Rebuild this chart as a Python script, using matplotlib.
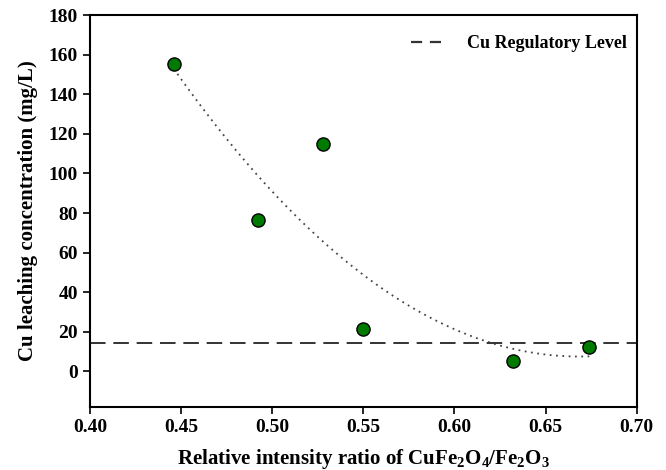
import matplotlib
matplotlib.use("Agg")
import matplotlib.pyplot as plt
from matplotlib.lines import Line2D
import numpy as np

# data
ratio = [0.446, 0.492, 0.528, 0.550, 0.632, 0.674]
cu_conc = [155.2, 76.6, 115.0, 21.2, 5.0, 12.1]
cu_limit = 14.5

plt.rcParams["font.family"] = "Liberation Serif"
plt.rcParams["font.weight"] = "bold"
plt.rcParams["mathtext.fontset"] = "custom"
plt.rcParams["mathtext.rm"] = "Liberation Serif:bold"
plt.rcParams["mathtext.bf"] = "Liberation Serif:bold"

fig = plt.figure(figsize=(6.66, 4.70), dpi=100)
ax = fig.add_axes([0.135, 0.134, 0.821, 0.834])

# quadratic trend of the points
coef = np.polyfit(ratio, cu_conc, 2)
xf = np.linspace(min(ratio), max(ratio), 200)
ax.plot(xf, np.polyval(coef, xf), linestyle=(0, (1, 2.5)), color="#444444", lw=1.3)

ax.axhline(cu_limit, color="#333333", lw=1.4, dashes=(8, 4))
ax.scatter(ratio, cu_conc, s=90, color="#007a00", edgecolor="black", linewidth=1.0, zorder=3)

ax.set_xlim(0.40, 0.70)
ax.set_ylim(-18, 180)
ax.set_xticks(np.arange(0.40, 0.701, 0.05))
ax.set_yticks(np.arange(0, 181, 20))
ax.xaxis.set_major_formatter(matplotlib.ticker.FormatStrFormatter("%.2f"))
ax.tick_params(direction="out", length=5, width=1.2, labelsize=14)
for s in ax.spines.values():
    s.set_linewidth(1.5)

ax.set_xlabel("Relative intensity ratio of CuFe$_\\mathbf{2}$O$_\\mathbf{4}$/Fe$_\\mathbf{2}$O$_\\mathbf{3}$",
              fontsize=15, fontweight="bold", labelpad=8)
ax.set_ylabel("Cu leaching concentration (mg/L)", fontsize=15, fontweight="bold", labelpad=8)

# legend handle with shorter dashes, like the original
proxy = Line2D([], [], color="#333333", lw=1.6, dashes=(5, 3.5))
ax.legend([proxy], ["Cu Regulatory Level"], loc="upper right", bbox_to_anchor=(1.018, 1.0),
          frameon=False, fontsize=13, handlelength=2.0, handletextpad=1.1, borderaxespad=0.7)

fig.savefig("out.png", dpi=100)
